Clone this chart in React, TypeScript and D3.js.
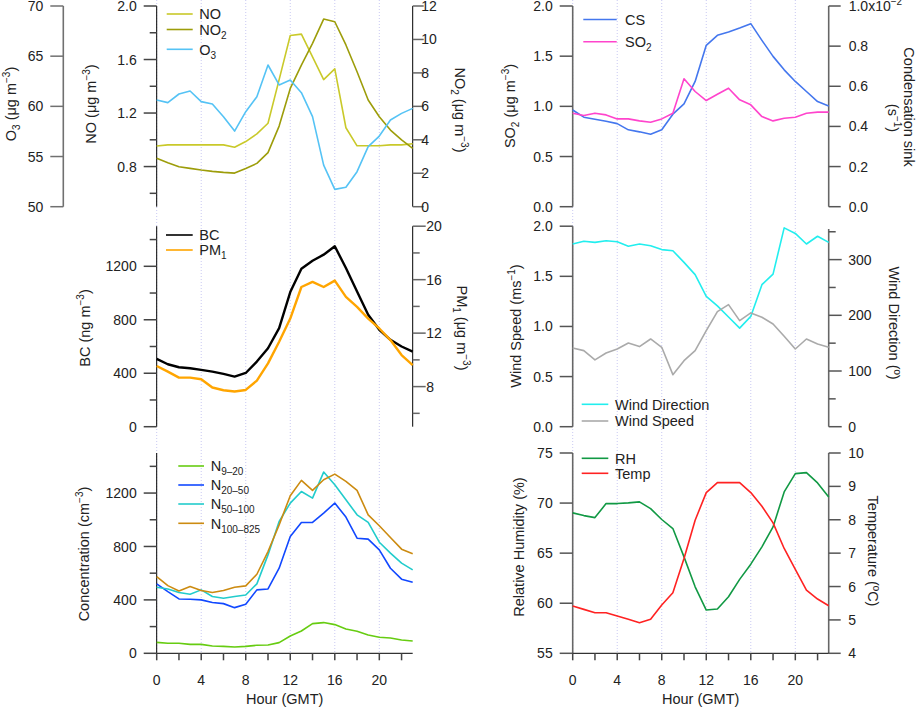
import React from "react";
import * as d3 from "d3";

const hours = d3.range(0, 24);

// Top-left panel
const noValues = [0.954, 0.962, 0.962, 0.962, 0.962, 0.962, 0.962, 0.944, 0.987, 1.044, 1.124, 1.45, 1.78, 1.79, 1.62, 1.45, 1.53, 1.09, 0.955, 0.955, 0.955, 0.962, 0.962, 0.97];
const no2Values = [2.89, 2.63, 2.39, 2.29, 2.19, 2.11, 2.05, 2.01, 2.29, 2.59, 3.23, 4.82, 7.07, 8.47, 9.77, 11.22, 11.06, 9.67, 8.07, 6.38, 5.38, 4.58, 3.99, 3.49];
const o3Values = [60.63, 60.37, 61.23, 61.53, 60.47, 60.23, 58.97, 57.54, 59.47, 60.96, 64.12, 62.13, 62.62, 61.36, 58.97, 54.15, 51.73, 51.93, 53.49, 55.98, 57.04, 58.64, 59.3, 59.8];

// Middle-left panel
const bcValues = [507, 467, 445, 437, 425, 412, 395, 375, 402, 487, 587, 737, 1007, 1182, 1242, 1287, 1350, 1187, 1012, 837, 725, 650, 600, 562];
const pm1Values = [9.54, 9.12, 8.67, 8.67, 8.55, 7.93, 7.73, 7.63, 7.75, 8.45, 9.74, 11.35, 13.09, 15.45, 15.83, 15.45, 15.93, 14.71, 13.96, 13.09, 12.35, 11.48, 10.36, 9.61];

// Bottom-left panel
const n920Values = [82, 75, 75, 67, 67, 55, 52, 47, 52, 60, 62, 80, 130, 167, 222, 230, 215, 182, 165, 137, 120, 115, 100, 92];
const n2050Values = [520, 462, 407, 405, 400, 380, 372, 342, 367, 475, 482, 637, 875, 980, 980, 1050, 1125, 1020, 862, 855, 775, 637, 555, 532];
const n50100Values = [495, 482, 455, 442, 475, 425, 412, 425, 437, 520, 737, 987, 1125, 1212, 1162, 1357, 1262, 1150, 1037, 980, 832, 750, 675, 625];
const n100825Values = [575, 507, 467, 500, 470, 455, 470, 495, 505, 592, 762, 962, 1180, 1295, 1220, 1300, 1342, 1287, 1220, 1037, 955, 867, 780, 745];

// Top-right panel
const csValues = [0.482, 0.446, 0.436, 0.426, 0.414, 0.383, 0.373, 0.361, 0.383, 0.461, 0.512, 0.624, 0.804, 0.854, 0.87, 0.89, 0.912, 0.829, 0.749, 0.682, 0.624, 0.574, 0.524, 0.502];
const so2Values = [0.932, 0.908, 0.932, 0.915, 0.875, 0.875, 0.855, 0.842, 0.875, 0.932, 1.275, 1.148, 1.058, 1.121, 1.181, 1.065, 1.015, 0.898, 0.855, 0.882, 0.892, 0.932, 0.942, 0.942];

// Middle-right panel
const windDirValues = [328, 333, 331, 334, 332, 324, 328, 325, 318, 316, 295, 273, 234, 217, 197, 177, 198, 255, 274, 357, 347, 328, 342, 331];
const windSpeedValues = [0.785, 0.759, 0.666, 0.735, 0.775, 0.835, 0.799, 0.875, 0.792, 0.519, 0.659, 0.759, 0.958, 1.148, 1.218, 1.058, 1.135, 1.092, 1.025, 0.902, 0.775, 0.875, 0.825, 0.792];

// Bottom-right panel
const rhValues = [69.02, 68.75, 68.55, 69.95, 69.95, 70.02, 70.12, 69.45, 68.36, 67.46, 64.63, 61.64, 59.32, 59.42, 60.65, 62.38, 63.9, 65.63, 67.62, 71.11, 72.94, 73.04, 72.01, 70.61];
const tempValues = [5.415, 5.316, 5.216, 5.216, 5.116, 5.017, 4.917, 5.017, 5.445, 5.814, 6.841, 7.987, 8.814, 9.113, 9.113, 9.113, 8.814, 8.405, 7.907, 7.14, 6.512, 5.894, 5.625, 5.425];

const xTickHours = [0, 2, 4, 6, 8, 10, 12, 14, 16, 18, 20, 22];
const xLabelHours = [0, 4, 8, 12, 16, 20];
const gridHours = [0, 4, 8, 12, 16, 20];

const FONT = "'Liberation Sans', Arial, Helvetica, sans-serif";
const TICK_FS = 14;
const LAB_FS = 14.5;

type Tick = { v: number; label?: string };

const LEFT_X: [number, number] = [156.7, 412.7];
const RIGHT_X: [number, number] = [572.7, 828.7];
const ROW_Y: [number, number][] = [
  [206.7, 6],
  [426.7, 226.2],
  [653.3, 453],
];

function VAxis({ x, scale, ticks, side, color = "#000", tickColor = "#444", width = 1, labelGap, majorLen = 13, minorLen = 7, range }: any) {
  const dir = side === "left" ? -1 : 1;
  return (
    <g>
      <line x1={x} x2={x} y1={range[0]} y2={range[1]} stroke={color} strokeWidth={width} />
      {ticks.map((t: Tick, i: number) => {
        const y = scale(t.v);
        const len = t.label !== undefined ? majorLen : minorLen;
        return (
          <g key={i}>
            <line x1={x} x2={x + dir * len} y1={y} y2={y} stroke={tickColor} strokeWidth={1.5} />
            {t.label !== undefined && (
              <text x={x + dir * labelGap} y={y} dy="0.36em" textAnchor={side === "left" ? "end" : "start"} fontSize={TICK_FS} fill="#222">
                {t.label}
              </text>
            )}
          </g>
        );
      })}
    </g>
  );
}

function Series({ x, y, values, color, width = 1.6 }: any) {
  const line = d3.line<number>().x((_, i) => x(hours[i])).y((d) => y(d));
  return <path d={line(values) || ""} fill="none" stroke={color} strokeWidth={width} strokeLinejoin="round" />;
}

function Legend({ x1, x2, tx, items }: any) {
  return (
    <g>
      {items.map((it: any, i: number) => (
        <g key={i}>
          <line x1={x1} x2={x2} y1={it.y} y2={it.y} stroke={it.color} strokeWidth={1.6} />
          <text x={tx} y={it.y} dy="0.36em" fontSize={LAB_FS} fill="#222">
            {it.label}
          </text>
        </g>
      ))}
    </g>
  );
}

function sub(s: string) {
  return (
    <tspan dy="4" fontSize={10}>
      {s}
    </tspan>
  );
}

function ticksFrom(values: number[], labeled: (v: number) => boolean, fmt: (v: number) => string): Tick[] {
  return values.map((v) => ({ v, label: labeled(v) ? fmt(v) : undefined }));
}

function XAxis({ x, y }: any) {
  const r = x.range();
  return (
    <g>
      <line x1={r[0]} x2={r[1]} y1={y} y2={y} stroke="#000" strokeWidth={1} />
      {xTickHours.map((h) => (
        <line key={h} x1={x(h)} x2={x(h)} y1={y} y2={y + 7} stroke="#444" strokeWidth={1.5} />
      ))}
      {xLabelHours.map((h) => (
        <text key={"l" + h} x={x(h)} y={y + 32} textAnchor="middle" fontSize={TICK_FS} fill="#222">
          {h}
        </text>
      ))}
      <text x={(r[0] + r[1]) / 2} y={y + 51} textAnchor="middle" fontSize={LAB_FS} fill="#222">
        Hour (GMT)
      </text>
    </g>
  );
}

export default function App() {
  const xL = d3.scaleLinear().domain([0, 23]).range(LEFT_X);
  const xR = d3.scaleLinear().domain([0, 23]).range(RIGHT_X);

  // scales
  const yNO = d3.scaleLinear().domain([0.5, 2.0]).range(ROW_Y[0]);
  const yNO2 = d3.scaleLinear().domain([0, 12]).range(ROW_Y[0]);
  const yO3 = d3.scaleLinear().domain([50, 70]).range(ROW_Y[0]);

  const yBC = d3.scaleLinear().domain([0, 1500]).range(ROW_Y[1]);
  const yPM = d3.scaleLinear().domain([5, 20]).range(ROW_Y[1]);

  const yN = d3.scaleLinear().domain([0, 1500]).range(ROW_Y[2]);

  const ySO2 = d3.scaleLinear().domain([0, 2]).range(ROW_Y[0]);
  const yCS = d3.scaleLinear().domain([0, 1]).range(ROW_Y[0]);

  const yWS = d3.scaleLinear().domain([0, 2]).range(ROW_Y[1]);
  const yWD = d3.scaleLinear().domain([0, 360]).range(ROW_Y[1]);

  const yRH = d3.scaleLinear().domain([55, 75]).range(ROW_Y[2]);
  const yT = d3.scaleLinear().domain([4, 10]).range(ROW_Y[2]);

  const f1 = d3.format(".1f");
  const f0 = d3.format("d");

  const gridColor = "#c9c9f2";

  return (
    <svg width={916} height={711} style={{ position: "absolute", left: 0, top: 0, background: "#fff" }} fontFamily={FONT}>
      <rect width={916} height={711} fill="#fff" />
      {/* grid lines */}
      {gridHours.map((h) => (
        <g key={"g" + h}>
          <line x1={xL(h)} x2={xL(h)} y1={0} y2={653} stroke={gridColor} strokeWidth={1} strokeDasharray="1,2" />
          <line x1={xR(h)} x2={xR(h)} y1={0} y2={653} stroke={gridColor} strokeWidth={1} strokeDasharray="1,2" />
        </g>
      ))}

      {/* ===== Top-left ===== */}
      <VAxis x={63.3} scale={yO3} range={ROW_Y[0]} side="left" color="#707070" tickColor="#707070" width={1.6} labelGap={20}
        ticks={ticksFrom([50, 55, 60, 65, 70], () => true, f0)} />
      <VAxis x={LEFT_X[0]} scale={yNO} range={ROW_Y[0]} side="left" labelGap={20}
        ticks={ticksFrom([0.6, 0.8, 1.0, 1.2, 1.4, 1.6, 1.8, 2.0], (v) => Math.round(v * 10) % 4 === 0, f1)} />
      <VAxis x={LEFT_X[1]} scale={yNO2} range={ROW_Y[0]} side="right" tickColor="#666" labelGap={8.5} majorLen={11}
        ticks={ticksFrom([0, 2, 4, 6, 8, 10, 12], () => true, f0)} />
      <Series x={xL} y={yNO} values={noValues} color="#c9c92a" />
      <Series x={xL} y={yNO2} values={no2Values} color="#9d9d0a" />
      <Series x={xL} y={yO3} values={o3Values} color="#55c3f5" />
      <Legend x1={166.7} x2={192.7} tx={199.3} items={[
        { y: 14, color: "#c9c92a", label: "NO" },
        { y: 29.5, color: "#9d9d0a", label: <>NO{sub("2")}</> },
        { y: 49.3, color: "#55c3f5", label: <>O{sub("3")}</> },
      ]} />
      <text transform="translate(16,104) rotate(-90)" textAnchor="middle" fontSize={LAB_FS} fill="#222">
        O<tspan dy="4" fontSize={10}>3</tspan><tspan dy="-4"> (μg m</tspan><tspan dy="-6" fontSize={10}>−3</tspan><tspan dy="6">)</tspan>
      </text>
      <text transform="translate(96,104) rotate(-90)" textAnchor="middle" fontSize={LAB_FS} fill="#222">
        NO (μg m<tspan dy="-6" fontSize={10}>−3</tspan><tspan dy="6">)</tspan>
      </text>
      <text transform="translate(455,110) rotate(90)" textAnchor="middle" fontSize={LAB_FS} fill="#222">
        NO<tspan dy="4" fontSize={10}>2</tspan><tspan dy="-4"> (μg m</tspan><tspan dy="-6" fontSize={10}>−3</tspan><tspan dy="6">)</tspan>
      </text>

      {/* ===== Middle-left ===== */}
      <VAxis x={LEFT_X[0]} scale={yBC} range={ROW_Y[1]} side="left" labelGap={20}
        ticks={ticksFrom([0, 200, 400, 600, 800, 1000, 1200, 1400], (v) => v % 400 === 0, f0)} />
      <VAxis x={LEFT_X[1]} scale={yPM} range={ROW_Y[1]} side="right" tickColor="#666" labelGap={13.5}
        ticks={ticksFrom([6, 8, 10, 12, 14, 16, 18, 20], (v) => v % 4 === 0, f0)} />
      <Series x={xL} y={yBC} values={bcValues} color="#000" width={2.4} />
      <Series x={xL} y={yPM} values={pm1Values} color="#ffa500" width={2.4} />
      <Legend x1={166} x2={192.7} tx={199.3} items={[
        { y: 235, color: "#000", label: "BC" },
        { y: 250, color: "#ffa500", label: <>PM{sub("1")}</> },
      ]} />
      <text transform="translate(90,328) rotate(-90)" textAnchor="middle" fontSize={LAB_FS} fill="#222">
        BC (ng m<tspan dy="-6" fontSize={10}>−3</tspan><tspan dy="6">)</tspan>
      </text>
      <text transform="translate(456.5,328) rotate(90)" textAnchor="middle" fontSize={LAB_FS} fill="#222">
        PM<tspan dy="4" fontSize={10}>1</tspan><tspan dy="-4"> (μg m</tspan><tspan dy="-6" fontSize={10}>−3</tspan><tspan dy="6">)</tspan>
      </text>

      {/* ===== Bottom-left ===== */}
      <VAxis x={LEFT_X[0]} scale={yN} range={ROW_Y[2]} side="left" labelGap={20}
        ticks={ticksFrom([0, 200, 400, 600, 800, 1000, 1200, 1400], (v) => v % 400 === 0, f0)} />
      <Series x={xL} y={yN} values={n920Values} color="#66cc11" />
      <Series x={xL} y={yN} values={n2050Values} color="#1148ff" />
      <Series x={xL} y={yN} values={n50100Values} color="#22cccc" />
      <Series x={xL} y={yN} values={n100825Values} color="#cc8b11" />
      <XAxis x={xL} y={ROW_Y[2][0]} />
      <Legend x1={178.3} x2={204} tx={210.7} items={[
        { y: 466, color: "#66cc11", label: <>N{sub("9–20")}</> },
        { y: 485, color: "#1148ff", label: <>N{sub("20–50")}</> },
        { y: 504, color: "#22cccc", label: <>N{sub("50–100")}</> },
        { y: 523.3, color: "#cc8b11", label: <>N{sub("100–825")}</> },
      ]} />
      <text transform="translate(89,554) rotate(-90)" textAnchor="middle" fontSize={LAB_FS} fill="#222">
        Concentration (cm<tspan dy="-6" fontSize={10}>−3</tspan><tspan dy="6">)</tspan>
      </text>

      {/* ===== Top-right ===== */}
      <VAxis x={RIGHT_X[0]} scale={ySO2} range={ROW_Y[0]} side="left" color="#666" tickColor="#555" width={1.6} labelGap={20}
        ticks={ticksFrom([0, 0.5, 1.0, 1.5, 2.0], () => true, f1)} />
      <VAxis x={RIGHT_X[1]} scale={yCS} range={ROW_Y[0]} side="right" color="#666" tickColor="#555" width={1.6} labelGap={20} majorLen={12}
        ticks={ticksFrom([0, 0.2, 0.4, 0.6, 0.8], () => true, f1)} />
      <line x1={RIGHT_X[1]} x2={RIGHT_X[1] + 12} y1={yCS(1)} y2={yCS(1)} stroke="#555" strokeWidth={1.5} />
      <text x={RIGHT_X[1] + 20} y={yCS(1)} dy="0.36em" fontSize={TICK_FS} fill="#222">
        1.0x10<tspan dy="-6" fontSize={10}>−2</tspan>
      </text>
      <Series x={xR} y={yCS} values={csValues} color="#4477ee" />
      <Series x={xR} y={ySO2} values={so2Values} color="#ff44cc" />
      <Legend x1={583.3} x2={616.7} tx={625} items={[
        { y: 19.5, color: "#4477ee", label: "CS" },
        { y: 41.7, color: "#ff44cc", label: <>SO{sub("2")}</> },
      ]} />
      <text transform="translate(515,106) rotate(-90)" textAnchor="middle" fontSize={LAB_FS} fill="#222">
        SO<tspan dy="4" fontSize={10}>2</tspan><tspan dy="-4"> (μg m</tspan><tspan dy="-6" fontSize={10}>−3</tspan><tspan dy="6">)</tspan>
      </text>
      <text transform="translate(904,107) rotate(90)" textAnchor="middle" fontSize={LAB_FS} fill="#222">
        Condensation sink
      </text>
      <text transform="translate(888,118) rotate(90)" textAnchor="middle" fontSize={LAB_FS} fill="#222">
        (s<tspan dy="-6" fontSize={10}>−1</tspan><tspan dy="6">)</tspan>
      </text>

      {/* ===== Middle-right ===== */}
      <VAxis x={RIGHT_X[0]} scale={yWS} range={ROW_Y[1]} side="left" color="#666" tickColor="#555" width={1.6} labelGap={20}
        ticks={ticksFrom([0, 0.5, 1.0, 1.5, 2.0], () => true, f1)} />
      <VAxis x={RIGHT_X[1]} scale={yWD} range={[ROW_Y[1][0], yWD(355)]} side="right" color="#666" tickColor="#555" width={1.6} labelGap={19.5} majorLen={13}
        ticks={ticksFrom([0, 50, 100, 150, 200, 250, 300, 350], (v) => v % 100 === 0, f0)} />
      <Series x={xR} y={yWD} values={windDirValues} color="#22eeee" />
      <Series x={xR} y={yWS} values={windSpeedValues} color="#aaaaaa" />
      <Legend x1={581.7} x2={608.3} tx={615} items={[
        { y: 404.3, color: "#22eeee", label: "Wind Direction" },
        { y: 421, color: "#aaaaaa", label: "Wind Speed" },
      ]} />
      <text transform="translate(520.5,326) rotate(-90)" textAnchor="middle" fontSize={LAB_FS} fill="#222">
        Wind Speed (ms<tspan dy="-6" fontSize={10}>−1</tspan><tspan dy="6">)</tspan>
      </text>
      <text transform="translate(889,323) rotate(90)" textAnchor="middle" fontSize={LAB_FS} fill="#222">
        Wind Direction (º)
      </text>

      {/* ===== Bottom-right ===== */}
      <VAxis x={RIGHT_X[0]} scale={yRH} range={ROW_Y[2]} side="left" color="#666" tickColor="#555" width={1.6} labelGap={20}
        ticks={ticksFrom([55, 60, 65, 70, 75], () => true, f0)} />
      <VAxis x={RIGHT_X[1]} scale={yT} range={ROW_Y[2]} side="right" color="#666" tickColor="#555" width={1.6} labelGap={19.5} majorLen={12}
        ticks={ticksFrom([4, 5, 6, 7, 8, 9, 10], () => true, f0)} />
      <Series x={xR} y={yRH} values={rhValues} color="#119944" />
      <Series x={xR} y={yT} values={tempValues} color="#ff2222" />
      <XAxis x={xR} y={ROW_Y[2][0]} />
      <Legend x1={581.7} x2={608.3} tx={615} items={[
        { y: 458.3, color: "#119944", label: "RH" },
        { y: 473.3, color: "#ff2222", label: "Temp" },
      ]} />
      <text transform="translate(524,547) rotate(-90)" textAnchor="middle" fontSize={LAB_FS} fill="#222">
        Relative Humidity (%)
      </text>
      <text transform="translate(868,551) rotate(90)" textAnchor="middle" fontSize={LAB_FS} fill="#222">
        Temperature (ºC)
      </text>
    </svg>
  );
}
